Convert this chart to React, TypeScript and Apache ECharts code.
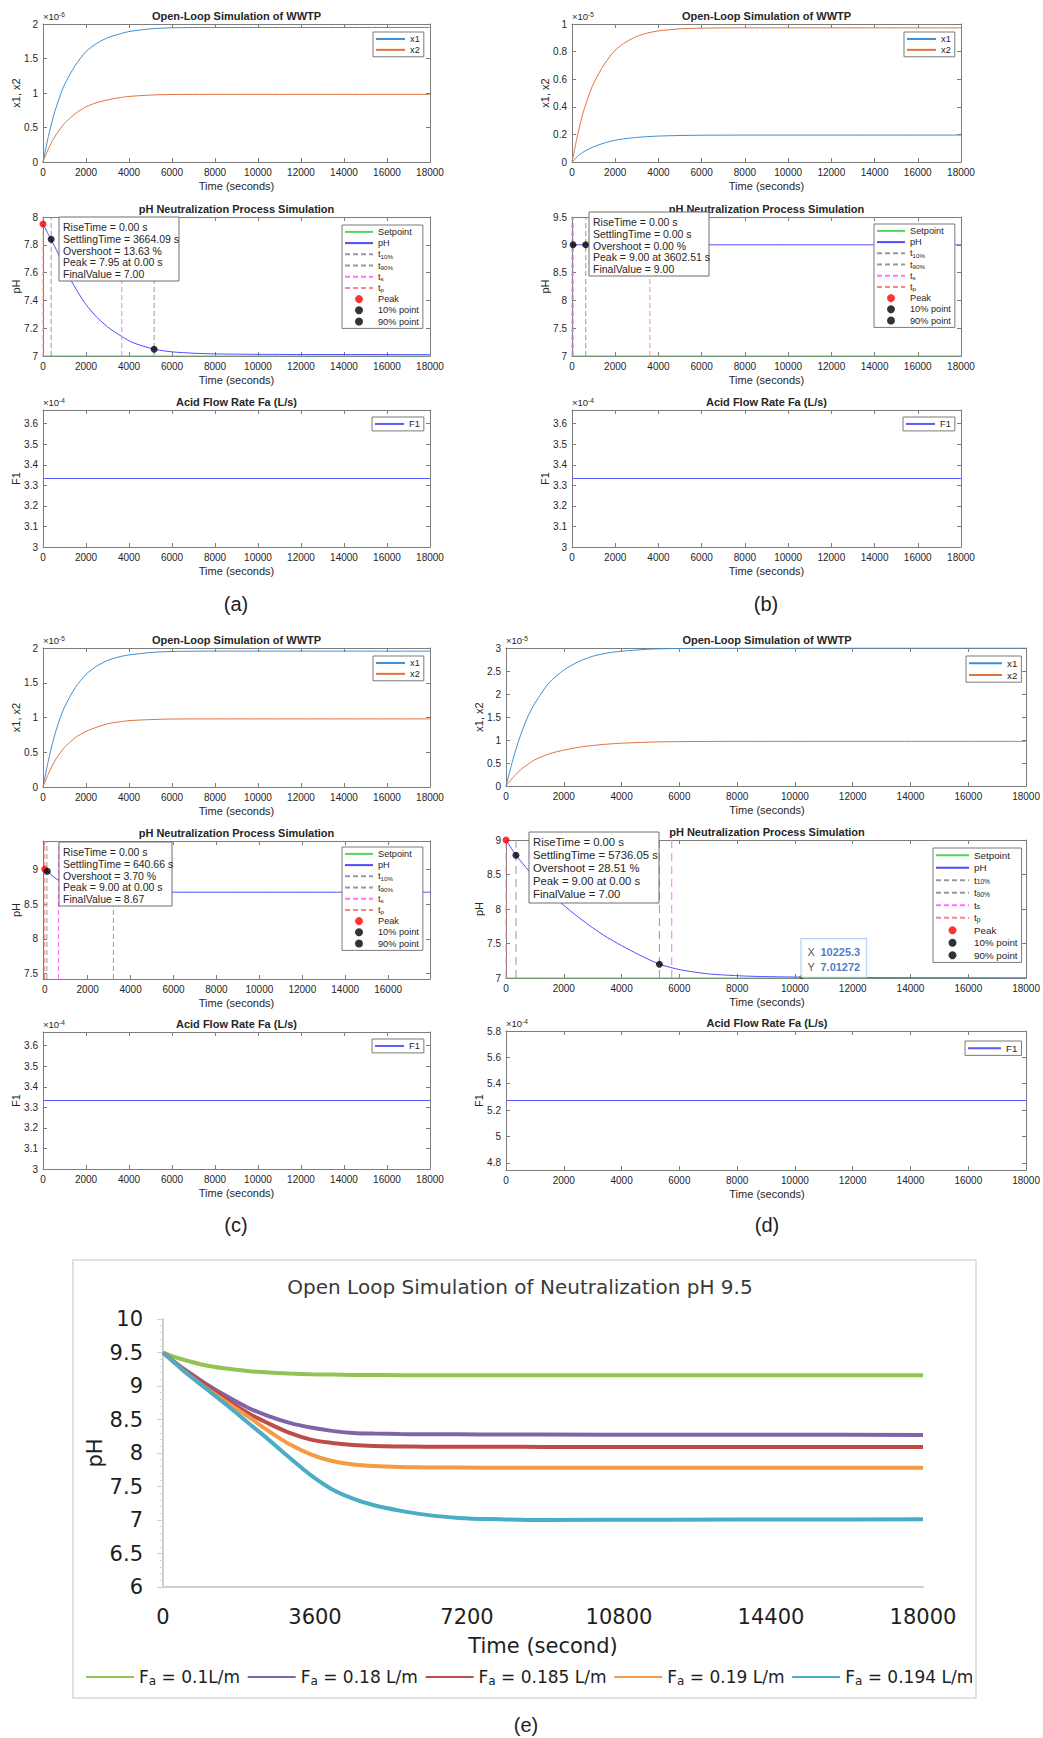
import React, { useEffect, useRef } from "react";
import * as echarts from "echarts";

const FONT = "'Liberation Sans', Arial, Helvetica, sans-serif";
const EFONT = "'DejaVu Sans', 'Liberation Sans', sans-serif";
const FRAME = "#7d7d7d";
const INK = "#262626";

// ---------------- DATA ----------------
// state trajectories (Open-Loop Simulation of WWTP)
const T_STATE = [0, 250, 500, 750, 1000, 1500, 2000, 2500, 3000, 3500, 4000, 5000, 6000, 8000, 10000, 12000, 14000, 16000, 18000];
const A_X1 = [0, 0.37, 0.68, 0.92, 1.12, 1.4, 1.6, 1.72, 1.8, 1.85, 1.89, 1.93, 1.945, 1.95, 1.95, 1.95, 1.95, 1.95, 1.95]; // x1e-6
const A_X2 = [0, 0.19, 0.34, 0.46, 0.56, 0.7, 0.8, 0.86, 0.9, 0.93, 0.95, 0.97, 0.978, 0.98, 0.98, 0.98, 0.98, 0.98, 0.98];
const B_X1 = [0, 0.04, 0.07, 0.092, 0.11, 0.138, 0.158, 0.17, 0.178, 0.184, 0.188, 0.192, 0.194, 0.195, 0.195, 0.195, 0.195, 0.195, 0.195]; // x1e-5
const B_X2 = [0, 0.19, 0.35, 0.47, 0.57, 0.71, 0.81, 0.87, 0.91, 0.935, 0.95, 0.965, 0.97, 0.972, 0.972, 0.972, 0.972, 0.972, 0.972];
const C_X1 = [0, 0.38, 0.7, 0.95, 1.15, 1.43, 1.62, 1.74, 1.82, 1.87, 1.9, 1.935, 1.95, 1.955, 1.955, 1.955, 1.955, 1.955, 1.955]; // x1e-5
const C_X2 = [0, 0.19, 0.35, 0.47, 0.57, 0.71, 0.8, 0.86, 0.91, 0.935, 0.955, 0.97, 0.978, 0.98, 0.98, 0.98, 0.98, 0.98, 0.98];
const D_X1 = [0, 0.6, 1.1, 1.5, 1.8, 2.25, 2.52, 2.7, 2.82, 2.89, 2.93, 2.975, 2.99, 3.0, 3.0, 3.0, 3.0, 3.0, 3.0]; // x1e-5
const D_X2 = [0, 0.19, 0.35, 0.47, 0.57, 0.7, 0.78, 0.84, 0.88, 0.91, 0.93, 0.955, 0.965, 0.97, 0.97, 0.97, 0.97, 0.97, 0.97];

// pH trajectories
const T_PH_A = [0, 350, 700, 1000, 1320, 1700, 2000, 2500, 3000, 3664, 4200, 5200, 6000, 7000, 8000, 10000, 12000, 18000];
const PH_A = [7.95, 7.845, 7.74, 7.64, 7.54, 7.44, 7.37, 7.28, 7.21, 7.14, 7.095, 7.048, 7.03, 7.02, 7.015, 7.012, 7.011, 7.01];
const T_PH_B = [0, 18000];
const PH_B = [9, 9];
const T_PH_C = [0, 120, 300, 500, 775, 1200, 2000, 3200, 4500, 6000, 18000];
const PH_C = [9.0, 8.97, 8.92, 8.87, 8.82, 8.77, 8.72, 8.69, 8.675, 8.67, 8.67];
const T_PH_D = [0, 345, 800, 1300, 1900, 2600, 3380, 4000, 4590, 5310, 6030, 7000, 8170, 9000, 10225.3, 12000, 14000, 18000];
const PH_D = [9.0, 8.78, 8.55, 8.33, 8.09, 7.85, 7.62, 7.47, 7.34, 7.2, 7.12, 7.06, 7.03, 7.02, 7.01272, 7.006, 7.003, 7.0];

const SETPOINT = 7;
const T_SPAN = [0, 18000];

// response markers [t, pH] and vertical marker times
const PEAK_A = [0, 7.95], P10_A = [380, 7.84], P90_A = [5170, 7.048];
const LINES_A = { t10: 380, t90: 5170, ts: 3664.09, tp: 0 };
const PEAK_B = [3602.51, 9.0], P10_B = [50, 9.0], P90_B = [636, 9.0];
const LINES_B = { t10: 50, t90: 636, ts: 0, tp: 3602.51 };
const PEAK_C = [0, 9.0], P10_C = [120, 8.97], P90_C = [3200, 8.69];
const LINES_C = { t10: 100, t90: 3200, ts: 640.66, tp: 0 };
const PEAK_D = [0, 9.0], P10_D = [345, 8.78], P90_D = [5310, 7.2];
const LINES_D = { t10: 345, t90: 5310, ts: 5736.05, tp: 0 };
const DATATIP_D = [10225.3, 7.01272];

// acid flow (x1e-4)
const F1_ABC = 3.3333;
const F1_D = 5.2727;

// stats boxes
const STATS_A = ["RiseTime = 0.00 s", "SettlingTime = 3664.09 s", "Overshoot = 13.63 %", "Peak = 7.95 at 0.00 s", "FinalValue = 7.00"];
const STATS_B = ["RiseTime = 0.00 s", "SettlingTime = 0.00 s", "Overshoot = 0.00 %", "Peak = 9.00 at 3602.51 s", "FinalValue = 9.00"];
const STATS_C = ["RiseTime = 0.00 s", "SettlingTime = 640.66 s", "Overshoot = 3.70 %", "Peak = 9.00 at 0.00 s", "FinalValue = 8.67"];
const STATS_D = ["RiseTime = 0.00 s", "SettlingTime = 5736.05 s", "Overshoot = 28.51 %", "Peak = 9.00 at 0.00 s", "FinalValue = 7.00"];

// (e) open loop pH 9.5
const T_E = [0, 250, 500, 1000, 1500, 2000, 2500, 3000, 3500, 4000, 4500, 5000, 5600, 6200, 7000, 8000, 9000, 12000, 15000, 18000];
const E_G = [9.5, 9.44, 9.39, 9.31, 9.26, 9.225, 9.2, 9.185, 9.175, 9.17, 9.166, 9.164, 9.162, 9.16, 9.16, 9.16, 9.16, 9.16, 9.16, 9.16];
const E_P = [9.5, 9.37, 9.25, 9.04, 8.85, 8.68, 8.55, 8.45, 8.38, 8.33, 8.3, 8.29, 8.283, 8.28, 8.278, 8.276, 8.275, 8.273, 8.272, 8.27];
const E_R = [9.5, 9.37, 9.24, 9.02, 8.8, 8.6, 8.44, 8.3, 8.2, 8.15, 8.12, 8.105, 8.098, 8.095, 8.093, 8.092, 8.091, 8.09, 8.09, 8.09];
const E_O = [9.5, 9.36, 9.22, 8.98, 8.76, 8.55, 8.33, 8.13, 7.98, 7.88, 7.83, 7.805, 7.79, 7.785, 7.782, 7.78, 7.78, 7.78, 7.78, 7.78];
const E_C = [9.5, 9.36, 9.22, 8.97, 8.72, 8.46, 8.2, 7.93, 7.67, 7.46, 7.32, 7.22, 7.14, 7.08, 7.03, 7.01, 7.0, 7.005, 7.008, 7.01];
const E_NAMES = ["Fa = 0.1L/m", "Fa = 0.18 L/m", "Fa = 0.185 L/m", "Fa = 0.19 L/m", "Fa = 0.194 L/m"];
const E_COLORS = ["#92c353", "#8064a8", "#be4b48", "#f79a45", "#4bacc6"];

// ticks
const XT_18 = [0, 2000, 4000, 6000, 8000, 10000, 12000, 14000, 16000, 18000];
const XT_16 = [0, 2000, 4000, 6000, 8000, 10000, 12000, 14000, 16000];

// ---------------- LAYOUT ----------------
const LAYOUT = [
  { l: 43, t: 24, w: 387, h: 138 },
  { l: 43, t: 217, w: 387, h: 139 },
  { l: 43, t: 410, w: 387, h: 137 },
  { l: 572, t: 24, w: 389, h: 138 },
  { l: 572, t: 217, w: 389, h: 139 },
  { l: 572, t: 410, w: 389, h: 137 },
  { l: 43, t: 648, w: 387, h: 139 },
  { l: 43, t: 841, w: 387, h: 138 },
  { l: 43, t: 1032, w: 387, h: 137 },
  { l: 506, t: 648, w: 522, h: 138 },
  { l: 506, t: 840, w: 522, h: 138 },
  { l: 506, t: 1031, w: 522, h: 139 },
  { l: 163, t: 1319, w: 760, h: 268 },
];

const AXES = [
  { xr: [0, 18000], xt: XT_18, yr: [0, 2], yt: [0, 0.5, 1, 1.5, 2] },
  { xr: [0, 18000], xt: XT_18, yr: [7, 8], yt: [7, 7.2, 7.4, 7.6, 7.8, 8] },
  { xr: [0, 18000], xt: XT_18, yr: [3, 3.6667], yt: [3, 3.1, 3.2, 3.3, 3.4, 3.5, 3.6] },
  { xr: [0, 18000], xt: XT_18, yr: [0, 1], yt: [0, 0.2, 0.4, 0.6, 0.8, 1] },
  { xr: [0, 18000], xt: XT_18, yr: [7, 9.5], yt: [7, 7.5, 8, 8.5, 9, 9.5] },
  { xr: [0, 18000], xt: XT_18, yr: [3, 3.6667], yt: [3, 3.1, 3.2, 3.3, 3.4, 3.5, 3.6] },
  { xr: [0, 18000], xt: XT_18, yr: [0, 2], yt: [0, 0.5, 1, 1.5, 2] },
  { xr: [-80, 17950], xt: XT_16, yr: [7.424, 9.405], yt: [7.5, 8, 8.5, 9] },
  { xr: [0, 18000], xt: XT_18, yr: [3, 3.6667], yt: [3, 3.1, 3.2, 3.3, 3.4, 3.5, 3.6] },
  { xr: [0, 18000], xt: XT_18, yr: [0, 3], yt: [0, 0.5, 1, 1.5, 2, 2.5, 3] },
  { xr: [0, 18000], xt: XT_18, yr: [7, 9], yt: [7, 7.5, 8, 8.5, 9] },
  { xr: [0, 18000], xt: XT_18, yr: [4.7454, 5.8], yt: [4.8, 5, 5.2, 5.4, 5.6, 5.8] },
];

const EXPS = ["-6", "", "-4", "-5", "", "-4", "-5", "", "-4", "-5", "", "-4"];
const TITLES = ["Open-Loop Simulation of WWTP", "pH Neutralization Process Simulation", "Acid Flow Rate Fa (L/s)"];
const YNAMES = ["x1, x2", "pH", "F1"];

const fmt = (v: number) => String(Math.round(v * 1e6) / 1e6);
const pairs = (ts: number[], vs: number[]) => ts.map((t, k) => [t, vs[k]]);

function mAxis(grid: number, pos: string, range: number[], ticks: number[], labels: boolean) {
  return {
    type: "value",
    gridIndex: grid,
    position: pos,
    min: range[0],
    max: range[1],
    axisLine: { show: true, onZero: false, lineStyle: { color: FRAME, width: 1 } },
    axisTick: { show: true, inside: true, length: 4, customValues: ticks, lineStyle: { color: FRAME, width: 1 } },
    axisLabel: {
      show: labels,
      customValues: ticks,
      formatter: fmt,
      color: INK,
      fontSize: 10,
      fontFamily: FONT,
      margin: 5,
    },
    splitLine: { show: false },
  };
}

const C_X1c = "#3d8ed2";
const C_X2c = "#e0733f";
const C_SET = "#55d655";
const C_PH = "#4d4dff";
const C_GRAY = "#9a9a9a";
const C_TS = "#ff70ff";
const C_TP = "#ff8585";

function lineS(grid: number, name: string, data: any[], color: string, dash: any = "solid", smooth: any = 0.25) {
  return {
    type: "line",
    name,
    xAxisIndex: grid * 2,
    yAxisIndex: grid * 2,
    data,
    symbol: "none",
    showSymbol: false,
    smooth,
    lineStyle: { color, width: 1, type: dash },
    itemStyle: { color },
    silent: true,
    z: 2,
  };
}
function dotS(grid: number, name: string, pt: number[], color: string) {
  return {
    type: "scatter",
    name,
    xAxisIndex: grid * 2,
    yAxisIndex: grid * 2,
    data: [pt],
    symbol: "circle",
    symbolSize: 7,
    itemStyle: { color },
    silent: true,
    z: 3,
  };
}

const LINE_NAMES = ["x1", "x2", "F1", "Setpoint", "pH", "t10%", "t90%", "ts", "tp"];
const SUBS: any = { "t10%": "10%", "t90%": "90%", ts: "s", tp: "p" };

function mLegend(names: string[], left: number, top: number, iw: number, fs: number, gap: number) {
  return {
    show: true,
    orient: "vertical",
    left,
    top,
    data: names.map((n) => (LINE_NAMES.indexOf(n) >= 0 ? { name: n, itemStyle: { opacity: 0 } } : { name: n })),
    itemWidth: iw,
    itemHeight: 8,
    itemGap: gap,
    padding: [2, 4, 2, 2],
    borderColor: "#7a7a7a",
    borderWidth: 1,
    backgroundColor: "#ffffff",
    selectedMode: false,
    z: 20,
    formatter: (n: string) => (SUBS[n] ? `{a|t}{s|${SUBS[n]}}` : `{a|${n}}`),
    textStyle: {
      fontSize: fs,
      fontFamily: FONT,
      color: INK,
      lineHeight: fs + 0.6,
      rich: {
        a: { fontSize: fs, fontFamily: FONT, color: INK, lineHeight: fs + 0.6 },
        s: { fontSize: fs * 0.68, fontFamily: FONT, color: INK, lineHeight: 6, verticalAlign: "bottom" },
      },
    },
  };
}

function statBox(x: number, y: number, w: number, h: number, lines: string[], fs: number, lh: number) {
  return {
    type: "group",
    z: 60,
    children: [
      { type: "rect", z: 60, shape: { x, y, width: w, height: h }, style: { fill: "#ffffff", stroke: "#6e6e6e", lineWidth: 1 } },
      {
        type: "text",
        z: 61,
        x: x + 4,
        y: y + 4,
        style: { text: lines.join("\n"), fontSize: fs, fontFamily: FONT, lineHeight: lh, fill: INK, align: "left", verticalAlign: "top" },
      },
    ],
  };
}

function buildOption() {
  const grid = LAYOUT.map((r) => ({ left: r.l, top: r.t, width: r.w, height: r.h, containLabel: false }));
  const xAxis: any[] = [];
  const yAxis: any[] = [];
  AXES.forEach((a, i) => {
    xAxis.push(mAxis(i, "bottom", a.xr, a.xt, true));
    xAxis.push(mAxis(i, "top", a.xr, a.xt, false));
    yAxis.push(mAxis(i, "left", a.yr, a.yt, true));
    yAxis.push(mAxis(i, "right", a.yr, a.yt, false));
  });
  // (e) axes
  xAxis.push({
    type: "value",
    gridIndex: 12,
    min: 0,
    max: 18000,
    interval: 3600,
    axisLine: { show: true, onZero: false, lineStyle: { color: "#cfcfcf", width: 2 } },
    axisTick: { show: false },
    axisLabel: { color: "#1e1e1e", fontSize: 21, fontFamily: EFONT, margin: 19, formatter: fmt },
    splitLine: { show: false },
  });
  xAxis.push({ type: "value", gridIndex: 12, show: false, min: 0, max: 18000 });
  yAxis.push({
    type: "value",
    gridIndex: 12,
    min: 6,
    max: 10,
    interval: 0.5,
    axisLine: { show: true, lineStyle: { color: "#cfcfcf", width: 2 } },
    axisTick: { show: true, inside: false, length: 6, lineStyle: { color: "#cfcfcf", width: 1 } },
    minorTick: { show: true, splitNumber: 5, length: 3, lineStyle: { color: "#d6d6d6", width: 1 } },
    axisLabel: { color: "#1e1e1e", fontSize: 21, fontFamily: EFONT, margin: 20, formatter: fmt },
    splitLine: { show: false },
  });
  yAxis.push({ type: "value", gridIndex: 12, show: false, min: 6, max: 10 });

  const series: any[] = [];
  const states = [
    { g: 0, x1: A_X1, x2: A_X2 },
    { g: 3, x1: B_X1, x2: B_X2 },
    { g: 6, x1: C_X1, x2: C_X2 },
    { g: 9, x1: D_X1, x2: D_X2 },
  ];
  states.forEach((s) => {
    series.push(lineS(s.g, "x1", pairs(T_STATE, s.x1), C_X1c));
    series.push(lineS(s.g, "x2", pairs(T_STATE, s.x2), C_X2c));
  });
  const phs = [
    { g: 1, t: T_PH_A, v: PH_A, L: LINES_A, pk: PEAK_A, p10: P10_A, p90: P90_A, dash: [5, 3] },
    { g: 4, t: T_PH_B, v: PH_B, L: LINES_B, pk: PEAK_B, p10: P10_B, p90: P90_B, dash: [5, 3] },
    { g: 7, t: T_PH_C, v: PH_C, L: LINES_C, pk: PEAK_C, p10: P10_C, p90: P90_C, dash: [5, 3] },
    { g: 10, t: T_PH_D, v: PH_D, L: LINES_D, pk: PEAK_D, p10: P10_D, p90: P90_D, dash: [8, 5] },
  ];
  phs.forEach((p) => {
    const yr = AXES[p.g].yr;
    const vl = (t: number) => [[t, yr[0]], [t, yr[1]]];
    series.push(lineS(p.g, "Setpoint", T_SPAN.map((t) => [t, SETPOINT]), C_SET, "solid", false));
    series.push(lineS(p.g, "pH", pairs(p.t, p.v), C_PH));
    series.push(lineS(p.g, "t10%", vl(p.L.t10), C_GRAY, p.dash, false));
    series.push(lineS(p.g, "t90%", vl(p.L.t90), C_GRAY, p.dash, false));
    series.push(lineS(p.g, "ts", vl(p.L.ts), C_TS, p.dash, false));
    series.push(lineS(p.g, "tp", vl(p.L.tp), C_TP, p.dash, false));
    series.push(dotS(p.g, "Peak", p.pk, "#ff0000"));
    series.push(dotS(p.g, "10% point", p.p10, "#000000"));
    series.push(dotS(p.g, "90% point", p.p90, "#000000"));
  });
  [2, 5, 8].forEach((g) => series.push(lineS(g, "F1", T_SPAN.map((t) => [t, F1_ABC]), "#5a5aff", "solid", false)));
  series.push(lineS(11, "F1", T_SPAN.map((t) => [t, F1_D]), "#5a5aff", "solid", false));

  // datatip on (d)
  series.push({
    type: "scatter",
    name: "datatip",
    xAxisIndex: 20,
    yAxisIndex: 20,
    data: [DATATIP_D],
    symbol: "circle",
    symbolSize: 4,
    itemStyle: { color: "#222222" },
    silent: true,
    z: 8,
    label: {
      show: true,
      position: [2, 2],
      align: "left",
      verticalAlign: "bottom",
      formatter: `{k|X}{v|${DATATIP_D[0]}}\n{k|Y}{v|${DATATIP_D[1]}}`,
      backgroundColor: "#ffffff",
      borderColor: "#9fc3ea",
      borderWidth: 1,
      padding: [5, 6, 3, 6],
      rich: {
        k: { fontSize: 11, fontFamily: FONT, color: INK, lineHeight: 15, width: 13 },
        v: { fontSize: 11, fontFamily: FONT, color: "#1b5cb0", fontWeight: "bold", lineHeight: 15 },
      },
    },
  });

  const eData = [E_G, E_P, E_R, E_O, E_C];
  eData.forEach((v, k) => {
    series.push({
      type: "line",
      name: E_NAMES[k],
      xAxisIndex: 24,
      yAxisIndex: 24,
      data: pairs(T_E, v),
      symbol: "none",
      showSymbol: false,
      smooth: 0.35,
      lineStyle: { color: E_COLORS[k], width: 4 },
      itemStyle: { color: E_COLORS[k] },
      silent: true,
      z: 2,
    });
  });

  const PHN = ["Setpoint", "pH", "t10%", "t90%", "ts", "tp", "Peak", "10% point", "90% point"];
  const legend: any[] = [
    mLegend(["x1", "x2"], 373, 32, 29, 9.3, 1),
    mLegend(PHN, 342, 225, 28, 9.2, 1.4),
    mLegend(["F1"], 372, 417, 29, 9.3, 1),
    mLegend(["x1", "x2"], 904, 32, 29, 9.3, 1),
    mLegend(PHN, 874, 224, 28, 9.2, 1.4),
    mLegend(["F1"], 903, 417, 29, 9.3, 1),
    mLegend(["x1", "x2"], 373, 656, 29, 9.3, 1),
    mLegend(PHN, 342, 847, 28, 9.2, 1.4),
    mLegend(["F1"], 372, 1039, 29, 9.3, 1),
    mLegend(["x1", "x2"], 966, 656, 33, 9.8, 1.4),
    mLegend(PHN, 933, 848, 33, 9.8, 2.1),
    mLegend(["F1"], 965, 1041, 33, 9.8, 1),
    {
      show: true,
      orient: "horizontal",
      left: 85,
      top: 1667,
      itemWidth: 48,
      itemHeight: 14,
      itemGap: 6.7,
      padding: 0,
      selectedMode: false,
      data: E_NAMES.map((n) => ({ name: n, itemStyle: { opacity: 0 } })),
      formatter: (n: string) => `{f|F}{s|a}{t|${n.slice(2)}}`,
      textStyle: {
        fontSize: 17,
        fontFamily: EFONT,
        color: "#1e1e1e",
        lineHeight: 20,
        rich: {
          f: { fontSize: 17, fontFamily: EFONT, color: "#1e1e1e", lineHeight: 20 },
          s: { fontSize: 12, fontFamily: EFONT, color: "#1e1e1e", lineHeight: 10, verticalAlign: "bottom" },
          t: { fontSize: 17, fontFamily: EFONT, color: "#1e1e1e", lineHeight: 20 },
        },
      },
    },
  ];

  const graphic: any[] = [];
  LAYOUT.slice(0, 12).forEach((r, i) => {
    const kind = i % 3;
    const cx = r.l + r.w / 2;
    graphic.push({
      type: "text",
      z: 5,
      x: cx,
      y: r.t - 8,
      style: { text: TITLES[kind], fontSize: 11, fontWeight: "bold", fontFamily: FONT, fill: INK, align: "center", verticalAlign: "middle" },
    });
    graphic.push({
      type: "text",
      z: 5,
      x: cx,
      y: r.t + r.h + 24,
      style: { text: "Time (seconds)", fontSize: 11, fontFamily: FONT, fill: INK, align: "center", verticalAlign: "middle" },
    });
    graphic.push({
      type: "text",
      z: 5,
      x: r.l - 27,
      y: r.t + r.h / 2,
      rotation: Math.PI / 2,
      style: { text: YNAMES[kind], fontSize: 11, fontFamily: FONT, fill: INK, align: "center", verticalAlign: "middle" },
    });
    if (EXPS[i]) {
      graphic.push({
        type: "text",
        z: 5,
        x: r.l,
        y: r.t - 7.5,
        style: {
          text: `{b|×10}{p|${EXPS[i]}}`,
          align: "left",
          verticalAlign: "middle",
          rich: {
            b: { fontSize: 9.5, fontFamily: FONT, fill: INK, lineHeight: 12 },
            p: { fontSize: 6.5, fontFamily: FONT, fill: INK, lineHeight: 7, verticalAlign: "top" },
          },
        },
      });
    }
  });
  graphic.push(statBox(59, 217, 120, 64, STATS_A, 10.5, 11.8));
  graphic.push(statBox(589, 212, 120, 64, STATS_B, 10.5, 11.8));
  graphic.push(statBox(59, 842, 113, 64, STATS_C, 10.5, 11.8));
  graphic.push(statBox(529, 832, 130, 71, STATS_D, 11.3, 12.9));

  // panel letters
  const letters = [
    ["(a)", 236, 604],
    ["(b)", 766, 604],
    ["(c)", 236, 1225],
    ["(d)", 767, 1225],
    ["(e)", 526, 1725],
  ];
  letters.forEach(([t, x, y]) =>
    graphic.push({
      type: "text",
      z: 5,
      x,
      y,
      style: { text: t, fontSize: 20, fontFamily: FONT, fill: "#222222", align: "center", verticalAlign: "middle" },
    })
  );
  // (e) frame and labels
  graphic.push({ type: "rect", z: 0, shape: { x: 73, y: 1260, width: 903, height: 438 }, style: { fill: "transparent", stroke: "#d9d9d9", lineWidth: 1.5 } });
  graphic.push({
    type: "text",
    z: 5,
    x: 520,
    y: 1287,
    style: { text: "Open Loop Simulation of Neutralization pH 9.5", fontSize: 20, fontFamily: EFONT, fill: "#3a3a3a", align: "center", verticalAlign: "middle" },
  });
  graphic.push({
    type: "text",
    z: 5,
    x: 543,
    y: 1646,
    style: { text: "Time (second)", fontSize: 21, fontFamily: EFONT, fill: "#1e1e1e", align: "center", verticalAlign: "middle" },
  });
  graphic.push({
    type: "text",
    z: 5,
    x: 95,
    y: 1453,
    rotation: Math.PI / 2,
    style: { text: "pH", fontSize: 21, fontFamily: EFONT, fill: "#1e1e1e", align: "center", verticalAlign: "middle" },
  });

  return {
    animation: false,
    backgroundColor: "#ffffff",
    textStyle: { fontFamily: FONT },
    grid,
    xAxis,
    yAxis,
    legend,
    series,
    graphic: { elements: graphic },
  };
}

export default function App() {
  const ref = useRef<HTMLDivElement>(null);
  useEffect(() => {
    const chart = echarts.init(ref.current as HTMLDivElement, null, { renderer: "svg" });
    chart.setOption(buildOption() as any);
    return () => chart.dispose();
  }, []);
  return <div ref={ref} style={{ position: "absolute", left: 0, top: 0, width: 1043, height: 1738, background: "#fff" }} />;
}
